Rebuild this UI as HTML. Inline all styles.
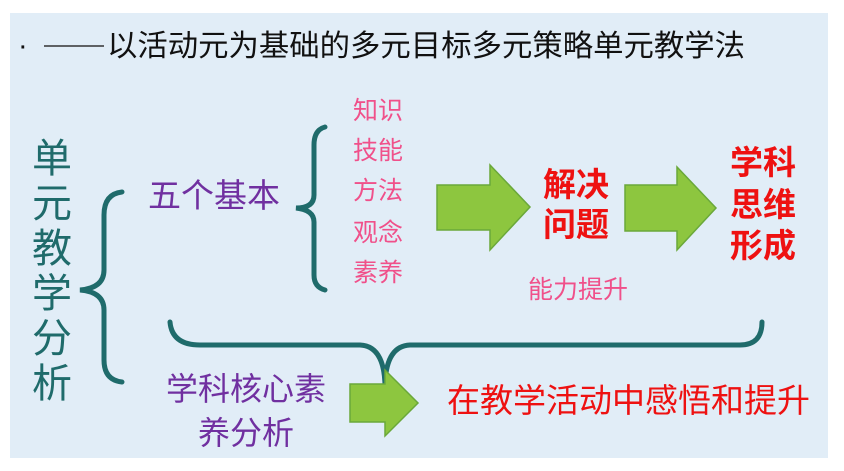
<!DOCTYPE html>
<html><head><meta charset="utf-8"><style>
html,body{margin:0;padding:0;background:#fff;width:844px;height:471px;overflow:hidden}
svg{display:block}
text{font-family:"Liberation Sans","Noto Sans CJK SC",sans-serif}
</style></head><body>
<svg width="844" height="471" viewBox="0 0 844 471">
<rect x="10" y="13" width="818" height="445" fill="#e1edf7"/>
<text x="18" y="55" font-size="29" fill="#111">·</text>
<line x1="44" y1="46" x2="104" y2="46" stroke="#333" stroke-width="1.5"/>
<text x="107" y="56" font-size="30" fill="#111" textLength="638" lengthAdjust="spacingAndGlyphs">以活动元为基础的多元目标多元策略单元教学法</text>
<g font-size="40" fill="#1f6b6b" text-anchor="middle">
<text x="52" y="172">单</text><text x="52" y="217">元</text><text x="52" y="262">教</text>
<text x="52" y="307">学</text><text x="52" y="352">分</text><text x="52" y="397">析</text>
</g>
<g fill="none" stroke="#1f6b6b" stroke-width="5" stroke-linecap="round">
<path d="M122 192 Q104 194 104 215 L104 270 Q104 288 80 290 Q104 292 104 310 L104 360 Q104 380 122 382"/>
<path d="M325 127 Q314 130 314 145 L314 195 Q314 208 296 208 Q314 210 314 222 L314 275 Q314 287 325 290"/>
<path d="M170 322 Q172 345 200 345 L360 345 Q384 346 385 385 Q386 346 410 345 L740 345 Q762 345 762 322"/>
</g>
<text x="148" y="207" font-size="33" fill="#7030a0">五个基本</text>
<g font-size="25" fill="#f0508a">
<text x="353" y="119">知识</text><text x="353" y="159">技能</text><text x="353" y="199">方法</text>
<text x="353" y="241">观念</text><text x="353" y="281">素养</text>
<text x="528" y="298">能力提升</text>
</g>
<g fill="#8dc63f" stroke="#6aa83a" stroke-width="1.5">
<path d="M437 185 L490 185 L490 165 L530 207 L490 250 L490 230 L437 230 Z"/>
<path d="M625 185 L677 185 L677 167 L716 208 L677 250 L677 231 L625 231 Z"/>
<path d="M350 384 L385 384 L385 370 L418 403 L385 436 L385 422 L350 422 Z"/>
</g>
<g font-size="33" fill="#ee1111" font-weight="bold">
<text x="543" y="196">解决</text><text x="543" y="236">问题</text>
<text x="730" y="174">学科</text><text x="730" y="216">思维</text><text x="730" y="257">形成</text>
</g>
<text x="166" y="400" font-size="32" fill="#7030a0">学科核心素</text>
<text x="198" y="444" font-size="32" fill="#7030a0">养分析</text>
<text x="447" y="412" font-size="33" fill="#ee1111">在教学活动中感悟和提升</text>
</svg>
</body></html>
